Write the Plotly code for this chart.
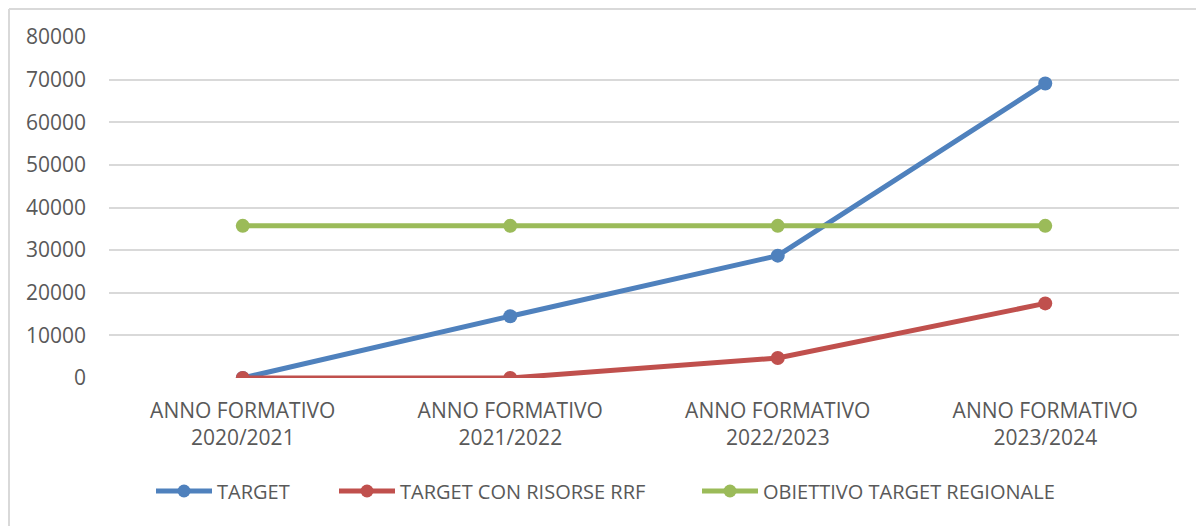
import plotly.graph_objects as go

categories = ["ANNO FORMATIVO<br>2020/2021", "ANNO FORMATIVO<br>2021/2022",
              "ANNO FORMATIVO<br>2022/2023", "ANNO FORMATIVO<br>2023/2024"]
target = [0, 14500, 28700, 69100]
target_rrf = [0, 0, 4700, 17500]
obiettivo = [35700, 35700, 35700, 35700]
y_ticks = [0, 10000, 20000, 30000, 40000, 50000, 60000, 70000, 80000]
series_names = ["TARGET", "TARGET CON RISORSE RRF", "OBIETTIVO TARGET REGIONALE"]
series_colors = ["#4F81BD", "#C0504D", "#9BBB59"]

# page has an 8px body margin; figure pixels = page pixels - 8
OFF = 8
W, H = 1204 - OFF, 526 - OFF
ML, MR, MT, MB = 109 - OFF, 25, 37 - OFF, 148
pw = W - ML - MR
ph = H - MT - MB


def px2x(p):
    return (p - OFF - ML) / pw


def py2y(p):
    return (H - MB - (p - OFF)) / ph


fig = go.Figure()
for name, vals, col in zip(series_names, [target, target_rrf, obiettivo], series_colors):
    fig.add_trace(go.Scatter(
        x=categories, y=vals, name=name, mode="lines+markers",
        line=dict(color=col, width=5),
        marker=dict(color=col, size=14),
        showlegend=False,
    ))

# manual legend (symbol start x in page pixels)
legend_x = [156, 339, 702]
legend_y = 491
shapes = [
    dict(type="line", xref="paper", yref="paper",
         x0=px2x(9), x1=px2x(1210), y0=py2y(9), y1=py2y(9),
         line=dict(color="#D9D9D9", width=2)),
    dict(type="line", xref="paper", yref="paper",
         x0=px2x(9), x1=px2x(9), y0=py2y(9), y1=py2y(530),
         line=dict(color="#D9D9D9", width=2)),
]
annotations = []
for name, col, lx in zip(series_names, series_colors, legend_x):
    shapes.append(dict(type="line", xref="paper", yref="paper",
                       x0=px2x(lx), x1=px2x(lx + 56), y0=py2y(legend_y), y1=py2y(legend_y),
                       line=dict(color=col, width=5)))
    cx = lx + 28
    r = 6.5
    shapes.append(dict(type="circle", xref="paper", yref="paper",
                       x0=px2x(cx - r), x1=px2x(cx + r),
                       y0=py2y(legend_y + r), y1=py2y(legend_y - r),
                       fillcolor=col, line=dict(color=col, width=0)))
    annotations.append(dict(xref="paper", yref="paper", x=px2x(lx + 59), y=py2y(legend_y),
                            xanchor="left", yanchor="middle", showarrow=False, text=name,
                            font=dict(family="Open Sans", size=20, color="#595959")))

fig.update_layout(
    width=W, height=H,
    margin=dict(l=ML, r=MR, t=MT, b=MB, autoexpand=False),
    plot_bgcolor="white", paper_bgcolor="white",
    font=dict(family="Open Sans", size=21, color="#595959"),
    xaxis=dict(showgrid=False, zeroline=False, showline=False, ticks="",
               tickfont=dict(size=21, color="#595959"), range=[-0.5, 3.5],
               ticklabelstandoff=18),
    yaxis=dict(range=[0, 80000], tickvals=y_ticks, tickformat="d", showgrid=True,
               gridcolor="#D9D9D9", gridwidth=2, zeroline=False,
               showline=False, ticks="", ticklabelstandoff=22,
               tickfont=dict(size=21, color="#595959")),
    showlegend=False,
    shapes=shapes,
    annotations=annotations,
)
fig.write_html("out.html")
